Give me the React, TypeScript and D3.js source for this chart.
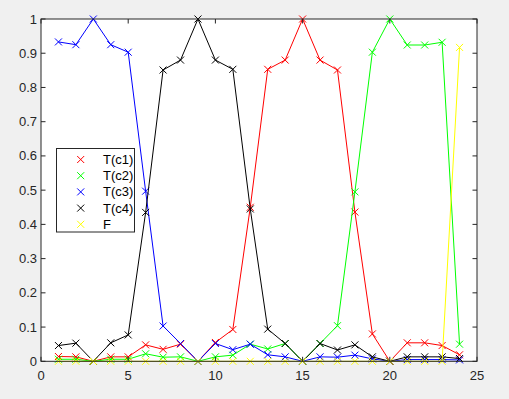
import React, { useEffect, useRef } from "react";
import * as d3 from "d3";

// x positions 1..24
const xs = [1, 2, 3, 4, 5, 6, 7, 8, 9, 10, 11, 12, 13, 14, 15, 16, 17, 18, 19, 20, 21, 22, 23, 24];

const tc1 = [0.014, 0.013, 0, 0.013, 0.013, 0.048, 0.035, 0.05, 0, 0.055, 0.093, 0.45, 0.853, 0.88, 1, 0.88, 0.851, 0.436, 0.08, 0, 0.054, 0.054, 0.046, 0.019];
const tc2 = [0.006, 0.006, 0, 0.006, 0.006, 0.022, 0.012, 0.013, 0, 0.013, 0.018, 0.05, 0.036, 0.052, 0, 0.052, 0.104, 0.495, 0.903, 1, 0.924, 0.924, 0.932, 0.05];
const tc3 = [0.933, 0.925, 1, 0.925, 0.903, 0.497, 0.103, 0.052, 0, 0.052, 0.034, 0.05, 0.019, 0.013, 0, 0.013, 0.012, 0.018, 0.007, 0, 0.005, 0.005, 0.005, 0.004];
const tc4 = [0.046, 0.053, 0, 0.054, 0.077, 0.435, 0.851, 0.88, 1, 0.88, 0.853, 0.445, 0.094, 0.052, 0, 0.052, 0.033, 0.048, 0.013, 0, 0.013, 0.013, 0.013, 0.008];
const fVals = [0, 0, 0, 0, 0, 0, 0, 0, 0, 0, 0, 0, 0, 0, 0, 0, 0, 0, 0, 0, 0, 0, 0, 0.917];

const seriesNames = ["T(c1)", "T(c2)", "T(c3)", "T(c4)", "F"];
const seriesColors = ["#ff0000", "#00ff00", "#0000ff", "#000000", "#ffff00"];
const seriesData = [tc1, tc2, tc3, tc4, fVals];

const xTicks = [0, 5, 10, 15, 20, 25];
const yTicks = [0, 0.1, 0.2, 0.3, 0.4, 0.5, 0.6, 0.7, 0.8, 0.9, 1];

const App = () => {
  const ref = useRef(null);

  useEffect(() => {
    const W = 509, H = 399;
    const m = { left: 41, right: 477, top: 19, bottom: 361.3 };
    const svg = d3.select(ref.current);
    svg.selectAll("*").remove();

    const x = d3.scaleLinear().domain([0, 25]).range([m.left, m.right]);
    const y = d3.scaleLinear().domain([0, 1]).range([m.bottom, m.top]);
    const font = "Arial, 'Liberation Sans', sans-serif";
    const axisCol = "#262626";

    svg.append("rect").attr("width", W).attr("height", H).attr("fill", "#f0f0f0");
    svg.append("rect")
      .attr("x", m.left).attr("y", m.top)
      .attr("width", m.right - m.left).attr("height", m.bottom - m.top)
      .attr("fill", "#ffffff");

    // lignes + marqueurs
    const line = d3.line<number>().x((d, i) => x(xs[i])).y(d => y(d));
    const hs = 3.5;
    seriesData.forEach((vals, k) => {
      svg.append("path")
        .attr("d", line(vals))
        .attr("fill", "none")
        .attr("stroke", seriesColors[k])
        .attr("stroke-width", 1);
      svg.append("g").selectAll("path")
        .data(vals)
        .join("path")
        .attr("d", (d, i) => {
          const cx = x(xs[i]), cy = y(d);
          return `M${cx - hs},${cy - hs}L${cx + hs},${cy + hs}M${cx - hs},${cy + hs}L${cx + hs},${cy - hs}`;
        })
        .attr("stroke", seriesColors[k])
        .attr("stroke-width", 1)
        .attr("fill", "none");
    });

    // cadre
    svg.append("rect")
      .attr("x", m.left).attr("y", m.top)
      .attr("width", m.right - m.left).attr("height", m.bottom - m.top)
      .attr("fill", "none").attr("stroke", axisCol).attr("stroke-width", 1);

    const tl = 4.5;
    xTicks.forEach(t => {
      const px = x(t);
      svg.append("line").attr("x1", px).attr("x2", px).attr("y1", m.bottom).attr("y2", m.bottom - tl).attr("stroke", axisCol);
      svg.append("line").attr("x1", px).attr("x2", px).attr("y1", m.top).attr("y2", m.top + tl).attr("stroke", axisCol);
      svg.append("text").attr("x", px).attr("y", 380)
        .attr("text-anchor", "middle").attr("font-family", font).attr("font-size", 13)
        .attr("fill", axisCol).text(t);
    });
    yTicks.forEach(t => {
      const py = y(t);
      svg.append("line").attr("x1", m.left).attr("x2", m.left + tl).attr("y1", py).attr("y2", py).attr("stroke", axisCol);
      svg.append("line").attr("x1", m.right).attr("x2", m.right - tl).attr("y1", py).attr("y2", py).attr("stroke", axisCol);
      svg.append("text").attr("x", m.left - 4).attr("y", py).attr("dy", "0.35em")
        .attr("text-anchor", "end").attr("font-family", font).attr("font-size", 13)
        .attr("fill", axisCol).text(t === 0 || t === 1 ? String(t) : t.toFixed(1));
    });

    // légende
    const lg = svg.append("g");
    lg.append("rect").attr("x", 56.5).attr("y", 148.5).attr("width", 78).attr("height", 83.5)
      .attr("fill", "#ffffff").attr("stroke", axisCol).attr("stroke-width", 1);
    seriesNames.forEach((name, k) => {
      const cy = 159.5 + k * 16.2;
      const cx = 80.7;
      lg.append("path")
        .attr("d", `M${cx - hs},${cy - hs}L${cx + hs},${cy + hs}M${cx - hs},${cy + hs}L${cx + hs},${cy - hs}`)
        .attr("stroke", seriesColors[k]).attr("stroke-width", 1);
      lg.append("text").attr("x", 103).attr("y", cy).attr("dy", "0.35em")
        .attr("font-family", font).attr("font-size", 13).attr("fill", "#000")
        .text(name);
    });

    return () => {
      d3.select(ref.current).selectAll("*").remove();
    };
  }, []);

  return (
    <svg ref={ref} width={509} height={399} style={{ position: "fixed", left: 0, top: 0 }}></svg>
  );
};

export default App;
